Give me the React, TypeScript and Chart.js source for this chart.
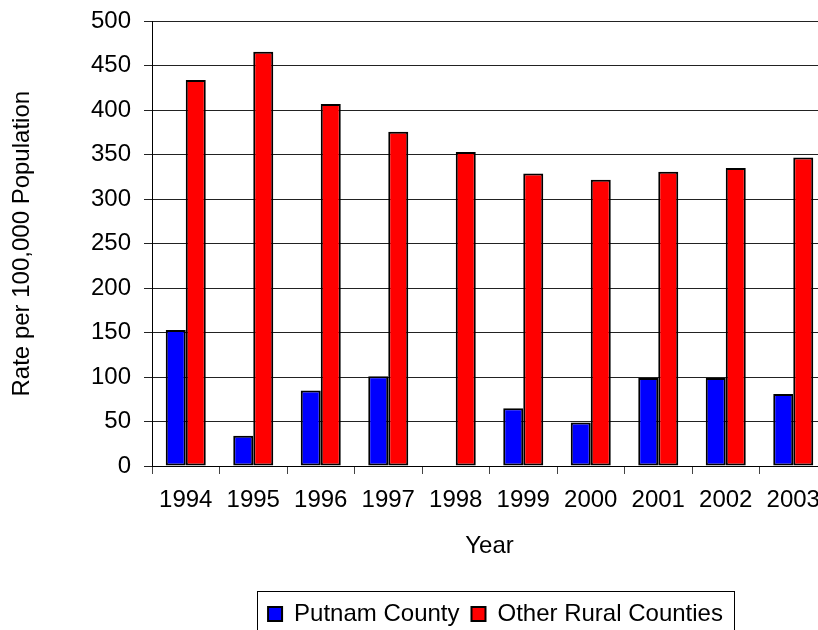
import React, { useEffect, useRef } from 'react';
import { Chart, registerables } from 'chart.js';

Chart.register(...registerables);

// Rate per 100,000 population, by year
const years = ['1994', '1995', '1996', '1997', '1998', '1999', '2000', '2001', '2002', '2003'];
const putnamCounty = [153, 34, 85, 101, 0, 65, 49, 99, 99, 81];
const otherRuralCounties = [434, 466, 407, 376, 353, 329, 322, 331, 335, 347];

const seriesNames = ['Putnam County', 'Other Rural Counties'];
const seriesColors = ['#0000FF', '#FF0000'];

const yMin = 0;
const yMax = 500;
const yStep = 50;

const xTitle = 'Year';
const yTitle = 'Rate per 100,000 Population';

const FONT = "'Liberation Sans', Arial, Helvetica, sans-serif";
const FONT_SIZE = 24;
const CANVAS_W = 840;
const CANVAS_H = 636;
const LEGEND_SHIFT = 6;
const LEGEND_BOX = 14;
const LEGEND_PAD = 12;

// Frames the legend and nudges its row sideways.
const legendFrame = {
  id: 'legendFrame',
  afterUpdate(chart: any) {
    const lg = chart.legend;
    if (!lg) return;
    lg.left += LEGEND_SHIFT;
    lg.right += LEGEND_SHIFT;
    lg.adjustHitBoxes();
  },
  afterDraw(chart: any) {
    const lg = chart.legend;
    if (!lg) return;
    const ctx = chart.ctx;
    ctx.save();
    ctx.font = `${FONT_SIZE}px ${FONT}`;
    let rowWidth = 0;
    seriesNames.forEach((name, i) => {
      rowWidth += LEGEND_BOX + FONT_SIZE / 2 + ctx.measureText(name).width;
      if (i < seriesNames.length - 1) rowWidth += LEGEND_PAD;
    });
    const cx = (lg.left + lg.right) / 2;
    const x0 = Math.round(cx - rowWidth / 2 - 11) + 0.5;
    const x1 = Math.round(cx + rowWidth / 2 + 11) + 0.5;
    const y0 = Math.round(lg.top + 1) + 0.5;
    ctx.strokeStyle = '#000';
    ctx.lineWidth = 1;
    ctx.strokeRect(x0, y0, x1 - x0, CANVAS_H - y0 + 10);
    ctx.restore();
  },
};

export default function App() {
  const canvasRef = useRef<HTMLCanvasElement | null>(null);

  useEffect(() => {
    const canvas = canvasRef.current;
    if (!canvas) return;
    const chart = new Chart(canvas, {
      type: 'bar',
      data: {
        labels: years,
        datasets: [
          {
            label: seriesNames[0],
            data: putnamCounty,
            backgroundColor: seriesColors[0],
            borderColor: '#000',
            borderWidth: 2,
            borderSkipped: false,
          },
          {
            label: seriesNames[1],
            data: otherRuralCounties,
            backgroundColor: seriesColors[1],
            borderColor: '#000',
            borderWidth: 2,
            borderSkipped: false,
          },
        ],
      },
      options: {
        responsive: false,
        animation: false,
        devicePixelRatio: 1,
        layout: { padding: { top: 15, right: 13, bottom: 0, left: 0 } },
        datasets: {
          bar: { categoryPercentage: 0.593, barPercentage: 1 },
        },
        scales: {
          x: {
            offset: true,
            border: { display: true, color: '#000', width: 1 },
            grid: {
              offset: true,
              drawOnChartArea: false,
              drawTicks: true,
              tickLength: 8,
              color: '#444',
            },
            ticks: {
              color: '#000',
              font: { family: FONT, size: FONT_SIZE },
              padding: 12,
              maxRotation: 0,
              autoSkip: false,
            },
            title: {
              display: true,
              text: xTitle,
              color: '#000',
              font: { family: FONT, size: FONT_SIZE },
              padding: { top: 4, bottom: 29 },
            },
            afterFit(scale: any) {
              scale.height = 124;
            },
          },
          y: {
            min: yMin,
            max: yMax,
            border: { display: true, color: '#000', width: 1 },
            grid: {
              color: '#222',
              lineWidth: 1,
              drawTicks: true,
              tickLength: 8,
            },
            ticks: {
              stepSize: yStep,
              color: '#000',
              font: { family: FONT, size: FONT_SIZE, lineHeight: 0.7 },
              padding: 13,
            },
            title: {
              display: true,
              text: yTitle,
              color: '#000',
              font: { family: FONT, size: FONT_SIZE },
              padding: { top: 8, bottom: 0 },
            },
            afterFit(scale: any) {
              scale.width = 152;
            },
          },
        },
        plugins: {
          legend: {
            display: true,
            position: 'bottom',
            fullSize: false,
            labels: {
              color: '#000',
              font: { family: FONT, size: FONT_SIZE },
              boxWidth: LEGEND_BOX,
              boxHeight: LEGEND_BOX,
              padding: LEGEND_PAD,
              useBorderRadius: false,
            },
          },
          tooltip: { enabled: false },
        },
      },
      plugins: [legendFrame],
    });
    return () => chart.destroy();
  }, []);

  return (
    <div
      style={{
        position: 'fixed',
        left: 0,
        top: 0,
        width: 818,
        height: 630,
        overflow: 'hidden',
        background: '#fff',
      }}
    >
      <canvas
        ref={canvasRef}
        width={CANVAS_W}
        height={CANVAS_H}
        style={{ display: 'block', width: CANVAS_W, height: CANVAS_H }}
      />
    </div>
  );
}
